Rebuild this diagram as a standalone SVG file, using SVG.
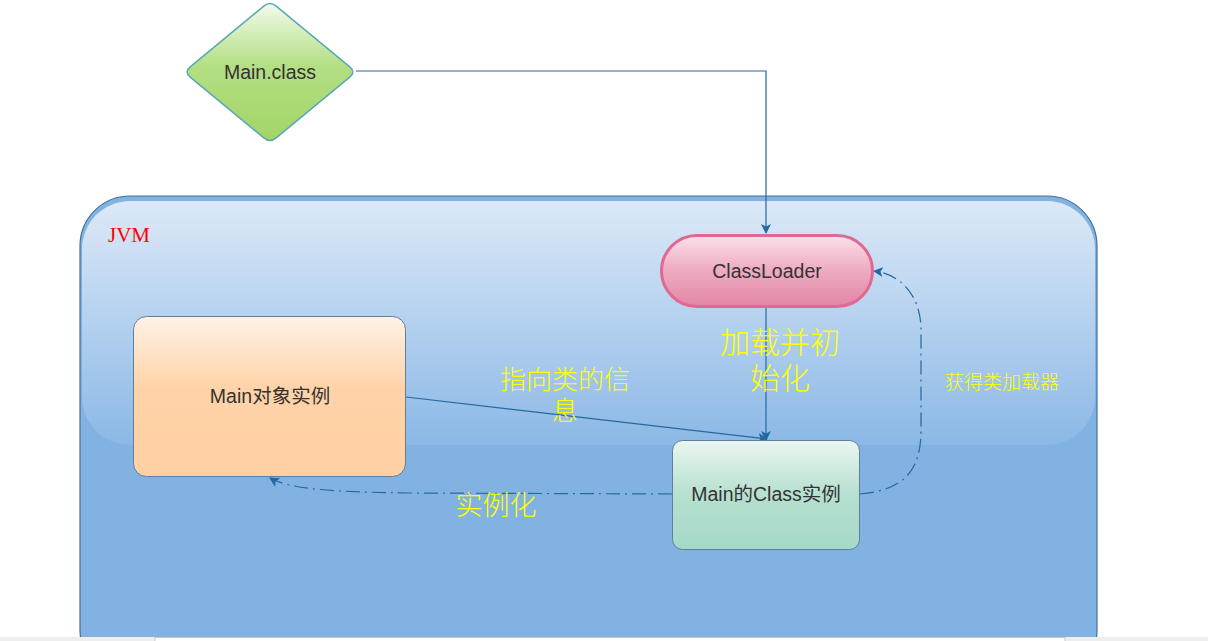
<svg xmlns="http://www.w3.org/2000/svg" width="1208" height="641" viewBox="0 0 1208 641">
<defs>
<linearGradient id="gGreen" x1="0" y1="0" x2="0" y2="1"><stop offset="0" stop-color="#f2faea"/><stop offset="0.45" stop-color="#b4df84"/><stop offset="1" stop-color="#a2d566"/></linearGradient>
<linearGradient id="gJvm" x1="0" y1="0" x2="0" y2="1"><stop offset="0" stop-color="#dce9f7"/><stop offset="1" stop-color="#8bb8e6"/></linearGradient>
<linearGradient id="gPink" x1="0" y1="0" x2="0" y2="1"><stop offset="0" stop-color="#fbe0ea"/><stop offset="0.5" stop-color="#eeaac0"/><stop offset="1" stop-color="#e286a6"/></linearGradient>
<linearGradient id="gOrange" x1="0" y1="0" x2="0" y2="1"><stop offset="0" stop-color="#fff2e6"/><stop offset="0.45" stop-color="#ffd3a8"/><stop offset="1" stop-color="#ffd0a2"/></linearGradient>
<linearGradient id="gMint" x1="0" y1="0" x2="0" y2="1"><stop offset="0" stop-color="#eaf6f0"/><stop offset="0.5" stop-color="#b6e0d0"/><stop offset="1" stop-color="#a6d9c8"/></linearGradient>
<marker id="arr" viewBox="0 0 10 10" refX="9" refY="5" markerWidth="10" markerHeight="10" markerUnits="userSpaceOnUse" orient="auto"><path d="M0,0 L10,5 L0,10 L2.5,5 Z" fill="#2468a0"/></marker>
<style>
.lbl{font-family:"Liberation Sans","Noto Sans CJK SC",sans-serif;fill:#333;font-size:19.5px;text-anchor:middle}
.yel{font-family:"Noto Sans CJK SC",sans-serif;fill:#ffff00;text-anchor:middle;font-weight:300}
.con{fill:none;stroke:#2468a0;stroke-width:1.2}
.dd{stroke-dasharray:14 5 2 5}
</style>
</defs>
<rect width="1208" height="641" fill="#fff"/>
<g id="jvm">
<rect x="80" y="196" width="1017" height="484" rx="50" fill="#82b2e2" stroke="#41719c" stroke-width="1.2"/>
<rect x="82" y="201" width="1013" height="244" rx="48" fill="url(#gJvm)"/>
<text x="108" y="242" font-family="Liberation Serif,serif" font-size="21" fill="#ff0000">JVM</text>
</g>
<g id="bottombar">
<rect x="0" y="637" width="1208" height="4" fill="#eeeeee"/>
<rect x="155" y="637.5" width="910" height="6" fill="#fff" stroke="#c8c8c8" stroke-width="1"/>
</g>
<g id="connectors">
<path class="con" d="M356,71 H766 V233" marker-end="url(#arr)"/>
<path class="con" d="M766,307 V440" marker-end="url(#arr)"/>
<path class="con" d="M406,397 L767,439" marker-end="url(#arr)"/>
<path class="con dd" d="M672,494 L410,493 C340,492 290,490 270,478" marker-end="url(#arr)"/>
<path class="con dd" d="M860,494 C905,490 921,470 921,430 V330 C921,295 900,274 874,271" marker-end="url(#arr)"/>
</g>
<g id="mainclass">
<path d="M263.8,6.1 Q270,1 276.2,6.1 L349.8,66.9 Q356,72 349.8,77.1 L276.2,137.9 Q270,143 263.8,137.9 L190.2,77.1 Q184,72 190.2,66.9 Z" fill="url(#gGreen)" stroke="#5aa7b8" stroke-width="1.5"/>
<text class="lbl" x="270" y="79" font-size="20">Main.class</text>
</g>
<g id="classloader">
<rect x="661.5" y="235.5" width="211" height="71" rx="35.5" fill="url(#gPink)" stroke="#e06892" stroke-width="3"/>
<text class="lbl" x="767" y="278" font-size="20">ClassLoader</text>
</g>
<g id="mainobj">
<rect x="133.5" y="316.5" width="272" height="160" rx="13" fill="url(#gOrange)" stroke="#5f7d9c" stroke-width="1"/>
<text class="lbl" x="270" y="403">Main对象实例</text>
</g>
<g id="mainclassinst">
<rect x="672.5" y="440.5" width="187" height="109" rx="10" fill="url(#gMint)" stroke="#5f7d9c" stroke-width="1"/>
<text class="lbl" x="766" y="501">Main的Class实例</text>
</g>
<g id="labels">
<text class="yel" font-size="30"><tspan x="780" y="353">加载并初</tspan><tspan x="780" y="389">始化</tspan></text>
<text class="yel" font-size="26"><tspan x="565" y="389">指向类的信</tspan><tspan x="565" y="420">息</tspan></text>
<text class="yel" x="496" y="515" font-size="27">实例化</text>
<text class="yel" x="1002" y="389" font-size="19">获得类加载器</text>
</g>
</svg>
